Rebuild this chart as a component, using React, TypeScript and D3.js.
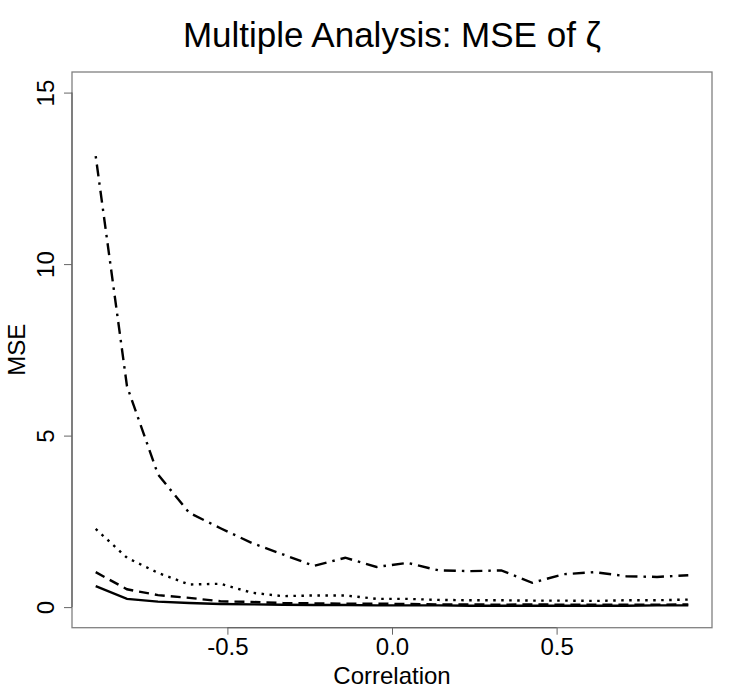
import React, { useRef, useEffect } from 'react';
import * as d3 from 'd3';

// correlation grid
const correlation = [
  -0.9, -0.805, -0.711, -0.616, -0.521, -0.426, -0.332, -0.237, -0.142, -0.047,
  0.047, 0.142, 0.237, 0.332, 0.426, 0.521, 0.616, 0.711, 0.805, 0.9,
];

const mseSolid = [0.61, 0.24, 0.16, 0.12, 0.09, 0.08, 0.07, 0.06, 0.06, 0.05, 0.05, 0.05, 0.04, 0.04, 0.04, 0.04, 0.04, 0.04, 0.05, 0.05];
const mseDashed = [1.02, 0.52, 0.35, 0.27, 0.17, 0.15, 0.12, 0.11, 0.1, 0.1, 0.09, 0.08, 0.08, 0.07, 0.08, 0.07, 0.07, 0.07, 0.07, 0.08];
const mseDotted = [2.28, 1.44, 1.0, 0.66, 0.68, 0.42, 0.32, 0.34, 0.34, 0.24, 0.24, 0.21, 0.2, 0.2, 0.19, 0.19, 0.18, 0.2, 0.2, 0.22];
const mseDotDash = [13.15, 6.44, 3.87, 2.75, 2.3, 1.87, 1.54, 1.2, 1.44, 1.17, 1.29, 1.07, 1.05, 1.07, 0.71, 0.96, 1.02, 0.9, 0.88, 0.93];

const xTicks = [-0.5, 0, 0.5];
const yTicks = [0, 5, 10, 15];

const series = [
  { values: mseSolid, dash: null },
  { values: mseDashed, dash: '10,6' },
  { values: mseDotted, dash: '2.5,5.5' },
  { values: mseDotDash, dash: '2.5,6,12,6' },
];

const FONT = '"Liberation Sans", Arial, Helvetica, sans-serif';

const App: React.FC = () => {
  const svgRef = useRef<SVGSVGElement | null>(null);

  useEffect(() => {
    if (!svgRef.current) return;
    const svg = d3.select(svgRef.current);
    svg.selectAll('*').remove();

    const left = 72, right = 712, top = 72, bottom = 627.7;

    // R style 4% padding around the data range
    const xScale = d3.scaleLinear().domain([-0.972, 0.972]).range([left, right]);
    const yScale = d3.scaleLinear().domain([-0.6, 15.6]).range([bottom, top]);

    svg.append('rect')
      .attr('x', left).attr('y', top)
      .attr('width', right - left).attr('height', bottom - top)
      .attr('fill', 'none').attr('stroke', '#808080').attr('stroke-width', 1.3);

    const line = d3.line<number>()
      .x((_, i) => xScale(correlation[i]))
      .y(d => yScale(d));

    series.forEach(s => {
      svg.append('path')
        .datum(s.values)
        .attr('fill', 'none')
        .attr('stroke', '#000')
        .attr('stroke-width', 2.4)
        .attr('stroke-dasharray', s.dash)
        .attr('d', line);
    });

    // x axis
    const xAxis = svg.append('g').attr('transform', `translate(0,${bottom})`);
    xAxis.call(d3.axisBottom(xScale).tickValues(xTicks).tickSize(7)
      .tickFormat(d => d3.format('.1f')(d as number).replace('−', '-')));
    xAxis.select('.domain')
      .attr('d', `M${xScale(-0.5)},0H${xScale(0.5)}`)
      .attr('stroke', '#666').attr('stroke-width', 1.3);
    xAxis.selectAll('.tick line').attr('stroke', '#666');
    xAxis.selectAll('.tick text')
      .attr('font-family', FONT).attr('font-size', 24).attr('fill', '#000')
      .attr('y', 27).attr('dy', 0);

    // y axis
    const yAxis = svg.append('g').attr('transform', `translate(${left},0)`);
    yAxis.call(d3.axisLeft(yScale).tickValues(yTicks).tickSize(8));
    yAxis.select('.domain')
      .attr('d', `M0,${yScale(0)}V${yScale(15)}`)
      .attr('stroke', '#666').attr('stroke-width', 1.3);
    yAxis.selectAll('.tick line').attr('stroke', '#666');
    yAxis.selectAll('.tick text')
      .attr('font-family', FONT).attr('font-size', 24).attr('fill', '#000')
      .attr('x', 0).attr('dy', 0)
      .attr('text-anchor', 'middle')
      .attr('transform', 'translate(-18,0) rotate(-90)');

    svg.append('text')
      .attr('x', (left + right) / 2).attr('y', 684)
      .attr('text-anchor', 'middle')
      .attr('font-family', FONT).attr('font-size', 24)
      .text('Correlation');

    svg.append('text')
      .attr('transform', `translate(25,${(top + bottom) / 2}) rotate(-90)`)
      .attr('text-anchor', 'middle')
      .attr('font-family', FONT).attr('font-size', 24)
      .text('MSE');

    svg.append('text')
      .attr('x', (left + right) / 2).attr('y', 47)
      .attr('text-anchor', 'middle')
      .attr('font-family', FONT).attr('font-size', 35)
      .text('Multiple Analysis: MSE of ζ');
  }, []);

  return (
    <svg
      ref={svgRef}
      width={741}
      height={700}
      style={{ position: 'absolute', left: 0, top: 0, background: '#fff' }}
    />
  );
};

export default App;
